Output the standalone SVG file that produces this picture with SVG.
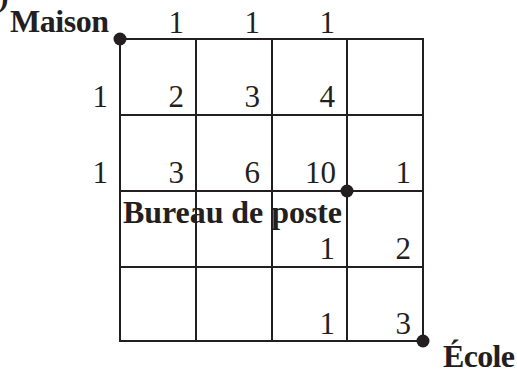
<svg xmlns="http://www.w3.org/2000/svg" width="517" height="374" viewBox="0 0 517 374">
<style>
.g{stroke:#231f20;stroke-width:2;fill:none}
.n{font-family:"Liberation Serif",serif;font-size:31px;fill:#231f20;text-anchor:end}
.b{font-family:"Liberation Serif",serif;font-size:32px;font-weight:bold;fill:#231f20}
.d{fill:#231f20}
</style>
<rect width="517" height="374" fill="#fff"/>
<g id="grid">
<rect class="g" x="120" y="39" width="303" height="302"/>
<path class="g" d="M196,39V341M272,39V341M347,39V341M120,115H423M120,191H423M120,267H423"/>
</g>
<g id="numbers">
<text class="n" x="184" y="33">1</text>
<text class="n" x="260" y="33">1</text>
<text class="n" x="335" y="33">1</text>
<text class="n" x="108" y="107">1</text>
<text class="n" x="184" y="107">2</text>
<text class="n" x="260" y="107">3</text>
<text class="n" x="335" y="107">4</text>
<text class="n" x="108" y="183">1</text>
<text class="n" x="184" y="183">3</text>
<text class="n" x="260" y="183">6</text>
<text class="n" x="336" y="183">10</text>
<text class="n" x="411" y="183">1</text>
<text class="n" x="335" y="259">1</text>
<text class="n" x="411" y="259">2</text>
<text class="n" x="335" y="334">1</text>
<text class="n" x="411" y="334">3</text>
</g>
<g id="maison">
<circle class="d" cx="120" cy="39" r="6.5"/>
<text class="b" x="10" y="32" textLength="99">Maison</text>
</g>
<g id="bureau">
<circle class="d" cx="347" cy="191" r="6.5"/>
<text class="b" x="123" y="223" textLength="219">Bureau de poste</text>
</g>
<g id="ecole">
<circle class="d" cx="423" cy="341" r="6.5"/>
<text class="b" x="443" y="367" textLength="72">École</text>
</g>
<text class="b" x="-2" y="6">)</text>
</svg>
